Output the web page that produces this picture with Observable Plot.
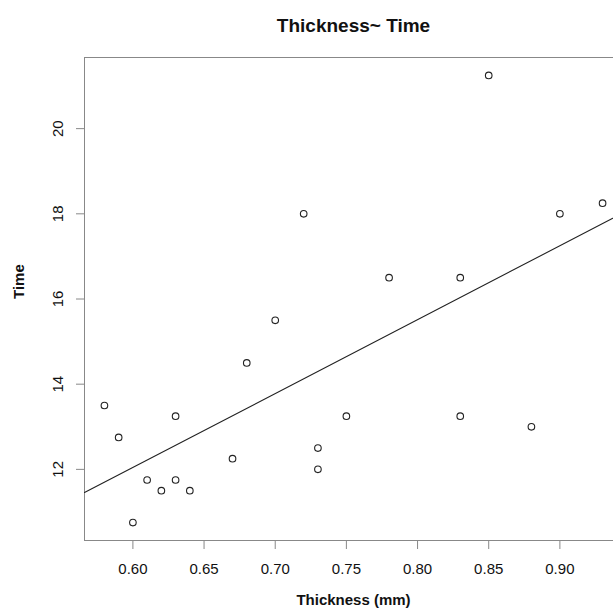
<!DOCTYPE html>
<html><head><meta charset="utf-8">
<script src="https://cdn.jsdelivr.net/npm/d3@7"></script>
<script src="https://cdn.jsdelivr.net/npm/@observablehq/plot@0.6"></script>
<style>html,body{margin:0;padding:0;overflow:hidden;background:#fff;width:613px;height:613px}
#chart svg{max-width:none !important;height:613px !important;width:640px !important}</style>
</head><body><div id="chart"></div>
<script>
const thickness = [0.58,0.59,0.60,0.61,0.62,0.63,0.63,0.64,0.67,0.68,0.70,0.72,0.73,0.73,0.75,0.78,0.83,0.83,0.85,0.88,0.90,0.93];
const time = [13.5,12.75,10.75,11.75,11.5,11.75,13.25,11.5,12.25,14.5,15.5,18,12.5,12,13.25,16.5,16.5,13.25,21.25,13,18,18.25];
const xTicks = [0.60,0.65,0.70,0.75,0.80,0.85,0.90];
const yTicks = [12,14,16,18,20];
const title = "Thickness~ Time";
const xLabel = "Thickness (mm)";
const yLabel = "Time";

const data = thickness.map((t,i) => ({thickness: t, time: time[i]}));
function padded(ext){ const d = (ext[1]-ext[0])*0.04; return [ext[0]-d, ext[1]+d]; }
const xDomain = padded(d3.extent(thickness));
const yDomain = padded(d3.extent(time));
// least squares fit (abline(lm(time ~ thickness)))
const mx = d3.mean(thickness), my = d3.mean(time);
const sxy = d3.sum(data, d => (d.thickness-mx)*(d.time-my));
const sxx = d3.sum(data, d => (d.thickness-mx)**2);
const slope = sxy/sxx, intercept = my - slope*mx;
const fit = xDomain.map(x => ({thickness: x, time: intercept + slope*x}));

const font = "'Liberation Sans', Arial, sans-serif";
const gray = "#888";
const chart = Plot.plot({
  width: 640, height: 613,
  marginTop: 57, marginLeft: 84, marginRight: 18, marginBottom: 73,
  style: {fontFamily: font, background: "#fff", color: "#111", maxWidth: "none"},
  x: {domain: xDomain},
  y: {domain: yDomain},
  marks: [
    Plot.axisX({ticks: xTicks, tickFormat: d3.format(".2f"), tickSize: 9, tickPadding: 14, fontSize: 15, stroke: gray, fill: "#111", label: null}),
    Plot.axisY({ticks: yTicks, tickSize: 8, tickPadding: 14, tickRotate: -90, fontSize: 15, stroke: gray, fill: "#111", label: null}),
    Plot.frame({stroke: gray}),
    Plot.line(fit, {x: "thickness", y: "time", stroke: "#222", strokeWidth: 1.1}),
    Plot.dot(data, {x: "thickness", y: "time", r: 3.3, stroke: "#222", fill: "none", strokeWidth: 1.1}),
    Plot.text([title], {frameAnchor: "top", dy: -39, fontSize: 19, fontWeight: "bold", fill: "#111"}),
    Plot.text([xLabel], {frameAnchor: "bottom", dy: 64, fontSize: 15, fontWeight: "bold", fill: "#111"}),
    Plot.text([yLabel], {frameAnchor: "left", dx: -65, rotate: -90, fontSize: 15, fontWeight: "bold", fill: "#111"})
  ]
});
document.getElementById("chart").appendChild(chart);
</script>
</body></html>
